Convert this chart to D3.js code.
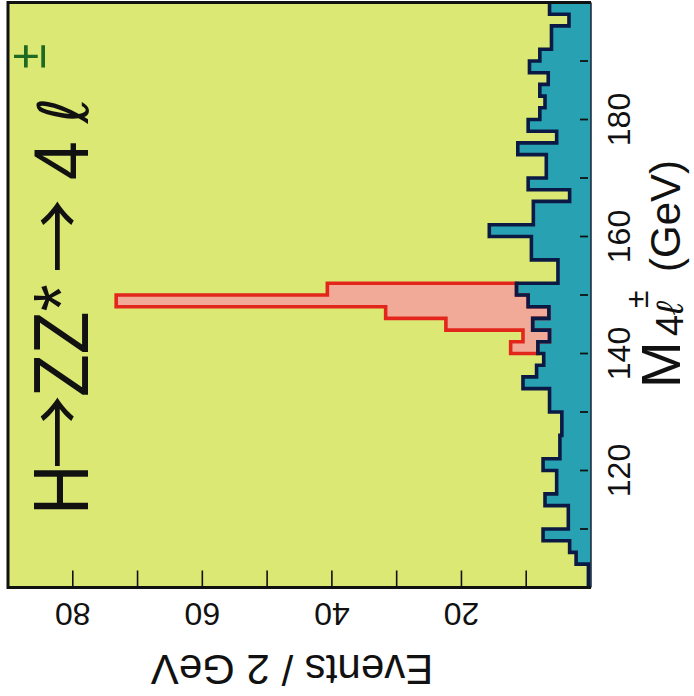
<!DOCTYPE html>
<html>
<head>
<meta charset="utf-8">
<script src="https://cdn.jsdelivr.net/npm/d3@7"></script>
<style>
body{margin:0;background:#fff;}
svg{display:block;}
text{font-family:"Liberation Sans",Arial,Helvetica,sans-serif;fill:#111;}
</style>
</head>
<body>
<script>
const width = 694;
const height = 696;

// bins of 2 GeV (low edge), background expectation and Higgs signal on top
const binLow = [100,102,104,106,108,110,112,114,116,118,120,122,124,126,128,130,132,134,136,138,
                140,142,144,146,148,150,152,154,156,158,160,162,164,166,168,170,172,174,176,178,
                180,182,184,186,188,190,192,194,196,198];
const background = [0.4,0.4,2.3,3.3,7.4,3.5,3.5,7.1,5.3,5.3,7.4,4.8,4.8,4.5,4.5,6.4,6.4,10.5,8.4,7.3,
                    8.2,6.4,9.0,6.5,9.7,11.5,5.1,5.1,9.2,9.2,15.7,8.9,8.9,3.3,9.7,6.9,6.9,11.3,5.3,9.7,
                    7.9,7.1,7.9,6.6,9.5,7.9,6.1,6.1,3.4,6.4];
const signalLow = [140,142,144,146,148,150];
const signal = [4.2,4.1,13.4,25.2,63.6,29.2];

const massTicks = [110,120,130,140,150,160,170,180,190];
const massLabels = [120,140,160,180];
const eventTicks = [10,20,30,40,50,60,70,80];
const eventLabels = [20,40,60,80];

const colors = {bg:'#dbe873', bkg:'#28a2b3', bkgLine:'#0b1a44', sig:'#f2aa98', sigLine:'#e3261c', pm:'#1f6a22'};

const svg = d3.select('body').append('svg')
              .attr('width',width)
              .attr('height',height);

// events run right->left, mass runs bottom->top (plot is turned on its side)
const x = d3.scaleLinear().domain([0,90]).range([591,8]);
const y = d3.scaleLinear().domain([100,200]).range([587.5,2.5]);

svg.append('rect')
   .attr('x',x(90)).attr('y',y(200))
   .attr('width',x(0)-x(90)).attr('height',y(100)-y(200))
   .attr('fill',colors.bg);

const line = d3.line().x(d=>x(d[0])).y(d=>y(d[1]));

function steps(lows,vals){
    const pts=[];
    lows.forEach((m,i)=>{
        pts.push([vals[i],m]);
        pts.push([vals[i],m+2]);
    });
    return pts;
}

const bkgPts = steps(binLow,background);
const bkgLookup = new Map(binLow.map((m,i)=>[m,background[i]]));

// background fill
svg.append('path')
   .attr('d',line([[0,100],...bkgPts,[0,200]]))
   .attr('fill',colors.bkg);

// signal stacked on background
const total = signalLow.map((m,i)=>bkgLookup.get(m)+signal[i]);
const topPts = steps(signalLow,total);
const basePts = steps(signalLow,signalLow.map(m=>bkgLookup.get(m))).reverse();
svg.append('path')
   .attr('d',line([...topPts,...basePts])+'Z')
   .attr('fill',colors.sig)
   .attr('stroke',colors.sigLine)
   .attr('stroke-width',3.6);

// background outline
svg.append('path')
   .attr('d',line(bkgPts))
   .attr('fill','none')
   .attr('stroke',colors.bkgLine)
   .attr('stroke-width',3.6);

// frame
const frame = svg.append('g');
frame.append('path')
     .attr('d',`M${x(0)},${y(200)}H${x(90)}V${y(100)}H${x(0)}`)
     .attr('fill','none').attr('stroke','#111').attr('stroke-width',3);
frame.append('line')
     .attr('x1',x(0)).attr('x2',x(0)).attr('y1',y(200)).attr('y2',y(100))
     .attr('stroke','#1a2233').attr('stroke-width',1.5);

// event ticks (bottom, pointing up)
svg.append('g').selectAll('line').data(eventTicks).enter()
   .append('line')
   .attr('x1',d=>x(d)).attr('x2',d=>x(d))
   .attr('y1',y(100)).attr('y2',y(100)-17)
   .attr('stroke','#111').attr('stroke-width',1.6);

svg.append('g').selectAll('text').data(eventLabels).enter()
   .append('text')
   .attr('transform',d=>`translate(${x(d)},603) rotate(180)`)
   .attr('text-anchor','middle')
   .style('font-size','32px')
   .text(d=>d);

svg.append('text')
   .attr('transform','translate(292,655) rotate(180)')
   .attr('text-anchor','middle')
   .style('font-size','42px')
   .text('Events / 2 GeV');

// mass ticks (right side, short dashes)
svg.append('g').selectAll('line').data(massTicks).enter()
   .append('line')
   .attr('x1',x(0)-11).attr('x2',x(0)-3)
   .attr('y1',d=>y(d)).attr('y2',d=>y(d))
   .attr('stroke','#111').attr('stroke-width',1.8);

svg.append('g').selectAll('text').data(massLabels).enter()
   .append('text')
   .attr('transform',d=>`translate(630,${y(d)}) rotate(-90)`)
   .attr('text-anchor','middle')
   .style('font-size','32px')
   .text(d=>d);

// mass axis title
const mt = svg.append('text')
   .attr('transform','translate(680,388) rotate(-90)');
mt.append('tspan').attr('x',0).style('font-size','56px').text('M');
mt.append('tspan').attr('x',52).attr('dy',3).style('font-size','38px').text('4');
mt.append('tspan').style('font-size','38px').style('font-style','italic').text('ℓ');
mt.append('tspan').attr('x',80).attr('dy',-35).style('font-size','32px').text('±');
mt.append('tspan').attr('x',116).attr('dy',32).style('font-size','42px').text('(GeV)');

// process title
const tt = svg.append('text')
   .attr('transform','translate(88,515) rotate(-90) scale(1,1.12)')
   .style('font-size','70px');
tt.append('tspan').attr('x',0).text('H');
tt.append('tspan').attr('x',118).text('ZZ*');
tt.append('tspan').attr('x',335).text('4');
tt.append('tspan').attr('x',392).style('font-style','italic').style('font-family','"DejaVu Sans"').style('font-size','62px').text('ℓ');
tt.append('tspan').attr('x',446).attr('dy',-38).style('font-size','46px').style('fill',colors.pm).text('±');

// thin open arrows of the title
const arrows = [46,242];
svg.append('g').selectAll('text').data(arrows).enter()
   .append('text')
   .attr('transform','translate(84,515) rotate(-90) scale(1,0.95)')
   .attr('x',d=>d)
   .style('font-family','"Noto Sans CJK JP","DejaVu Sans",sans-serif')
   .style('font-size','74px')
   .text('→');
</script>
</body>
</html>
